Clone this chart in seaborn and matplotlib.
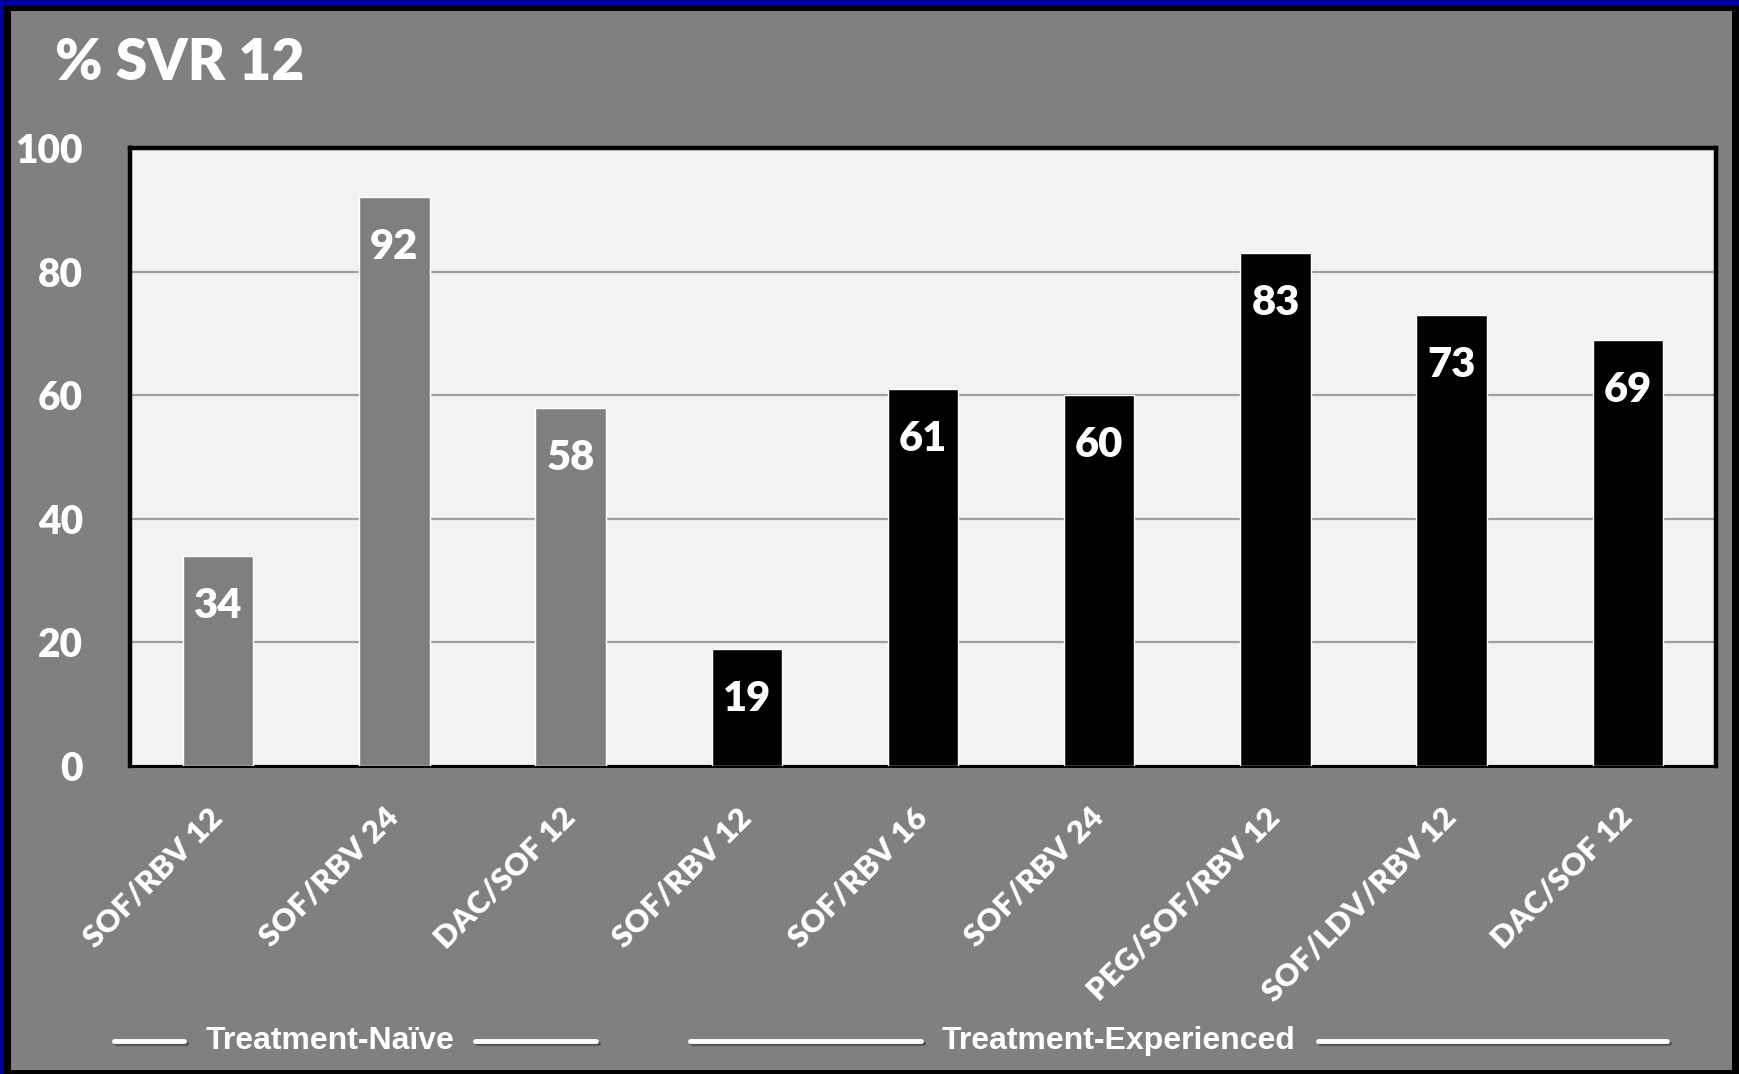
import numpy as np
import pandas as pd
import seaborn as sns
from matplotlib import pyplot as plt
from matplotlib.patches import Rectangle
from matplotlib.lines import Line2D
import matplotlib.patheffects as pe

# data
regimens = ['SOF/RBV 12', 'SOF/RBV 24', 'DAC/SOF 12',
            'SOF/RBV 12', 'SOF/RBV 16', 'SOF/RBV 24',
            'PEG/SOF/RBV 12', 'SOF/LDV/RBV 12', 'DAC/SOF 12']
svr12 = [34, 92, 58, 19, 61, 60, 83, 73, 69]
groups = ['Treatment-Naïve'] * 3 + ['Treatment-Experienced'] * 6
group_colors = {'Treatment-Naïve': '#7F7F7F', 'Treatment-Experienced': '#000000'}
y_ticks = [0, 20, 40, 60, 80, 100]

df = pd.DataFrame({'pos': range(len(regimens)), 'regimen': regimens,
                   'svr': svr12, 'group': groups})

sns.set_style('white')
plt.rcParams['font.family'] = ['Lato', 'DejaVu Sans']

W, H = 1740, 1074
fig = plt.figure(figsize=(W / 100, H / 100), dpi=100)
fig.patch.set_facecolor('#00009F')
# black inner frame + grey slide background
fig.patches.append(Rectangle((4 / W, 0), 1, 1 - 5 / H, transform=fig.transFigure,
                             facecolor='black', edgecolor='none', zorder=-3))
fig.patches.append(Rectangle((11 / W, 4 / H), (1732 - 11) / W, (1074 - 15) / H,
                             transform=fig.transFigure, facecolor='#808080',
                             edgecolor='none', zorder=-2))

ax = fig.add_axes([130 / W, 1 - 766 / H, (1716 - 130) / W, (766 - 148) / H])
ax.set_facecolor('#F2F2F2')

sns.barplot(data=df, x='pos', y='svr', hue='group', palette=group_colors,
            dodge=False, width=0.4, saturation=1, legend=False, ax=ax, zorder=3)

for i, v in enumerate(svr12):
    ax.annotate(str(v), (i, v), xytext=(0, -36), textcoords='offset points',
                ha='center', va='center', color='white', fontsize=30,
                fontweight='heavy', zorder=5)

ax.set_xlim(-0.5, len(regimens) - 0.5)
ax.set_ylim(0, 100)
ax.set_yticks(y_ticks)
ax.set_yticklabels([str(t) for t in y_ticks])
ax.yaxis.grid(True, color='#A0A0A0', linewidth=1.6, zorder=0)
ax.set_axisbelow(True)

ax.set_xticks(range(len(regimens)))
ax.set_xticklabels(regimens)
ax.set_xticks(np.arange(-0.5, len(regimens)), minor=True)
ax.tick_params(axis='x', which='major', length=0, pad=34)
ax.tick_params(axis='x', which='minor', length=6, color='#A6A6A6', width=1.2)
ax.tick_params(axis='y', which='major', length=7, color='#A6A6A6', width=1.2,
               pad=27, labelsize=28)
for lab in ax.get_xticklabels():
    lab.set_rotation(45)
    lab.set_ha('right')
    lab.set_va('center')
    lab.set_rotation_mode('anchor')
    lab.set_fontsize(22.5)
    lab.set_fontweight('heavy')
    lab.set_color('white')
for lab in ax.get_yticklabels():
    lab.set_fontweight('heavy')
    lab.set_color('white')

ax.set_xlabel('')
ax.set_ylabel('')
for side in ['left', 'top', 'right']:
    ax.spines[side].set_visible(True)
    ax.spines[side].set_color('black')
    ax.spines[side].set_linewidth(3.2)
ax.spines['bottom'].set_color('black')
ax.spines['bottom'].set_linewidth(2.2)

fig.text(55 / W, 1 - 80 / H, '% SVR 12', color='white', fontsize=41,
         fontweight='heavy', ha='left', va='baseline')

# group brackets under the tick labels
gy = 1 - 1041 / H
shadow = [pe.SimpleLineShadow(offset=(1.5, -1.5), shadow_color='black', alpha=0.35),
          pe.Normal()]
for x0, x1 in [(103, 166), (428, 537), (622, 830), (1188, 1502)]:
    fig.lines.append(Line2D([x0 * 1.1097 / W, x1 * 1.1097 / W], [gy, gy],
                            transform=fig.transFigure, color='white',
                            linewidth=3.5, path_effects=shadow))
for xc, name in [(297, 'Treatment-Naïve'), (1008, 'Treatment-Experienced')]:
    fig.text(xc * 1.1097 / W, gy, name, color='white', fontsize=23,
             fontweight='bold', family=['Liberation Sans', 'DejaVu Sans'],
             ha='center', va='center')

fig.savefig('out.png', dpi=100, facecolor=fig.get_facecolor())
